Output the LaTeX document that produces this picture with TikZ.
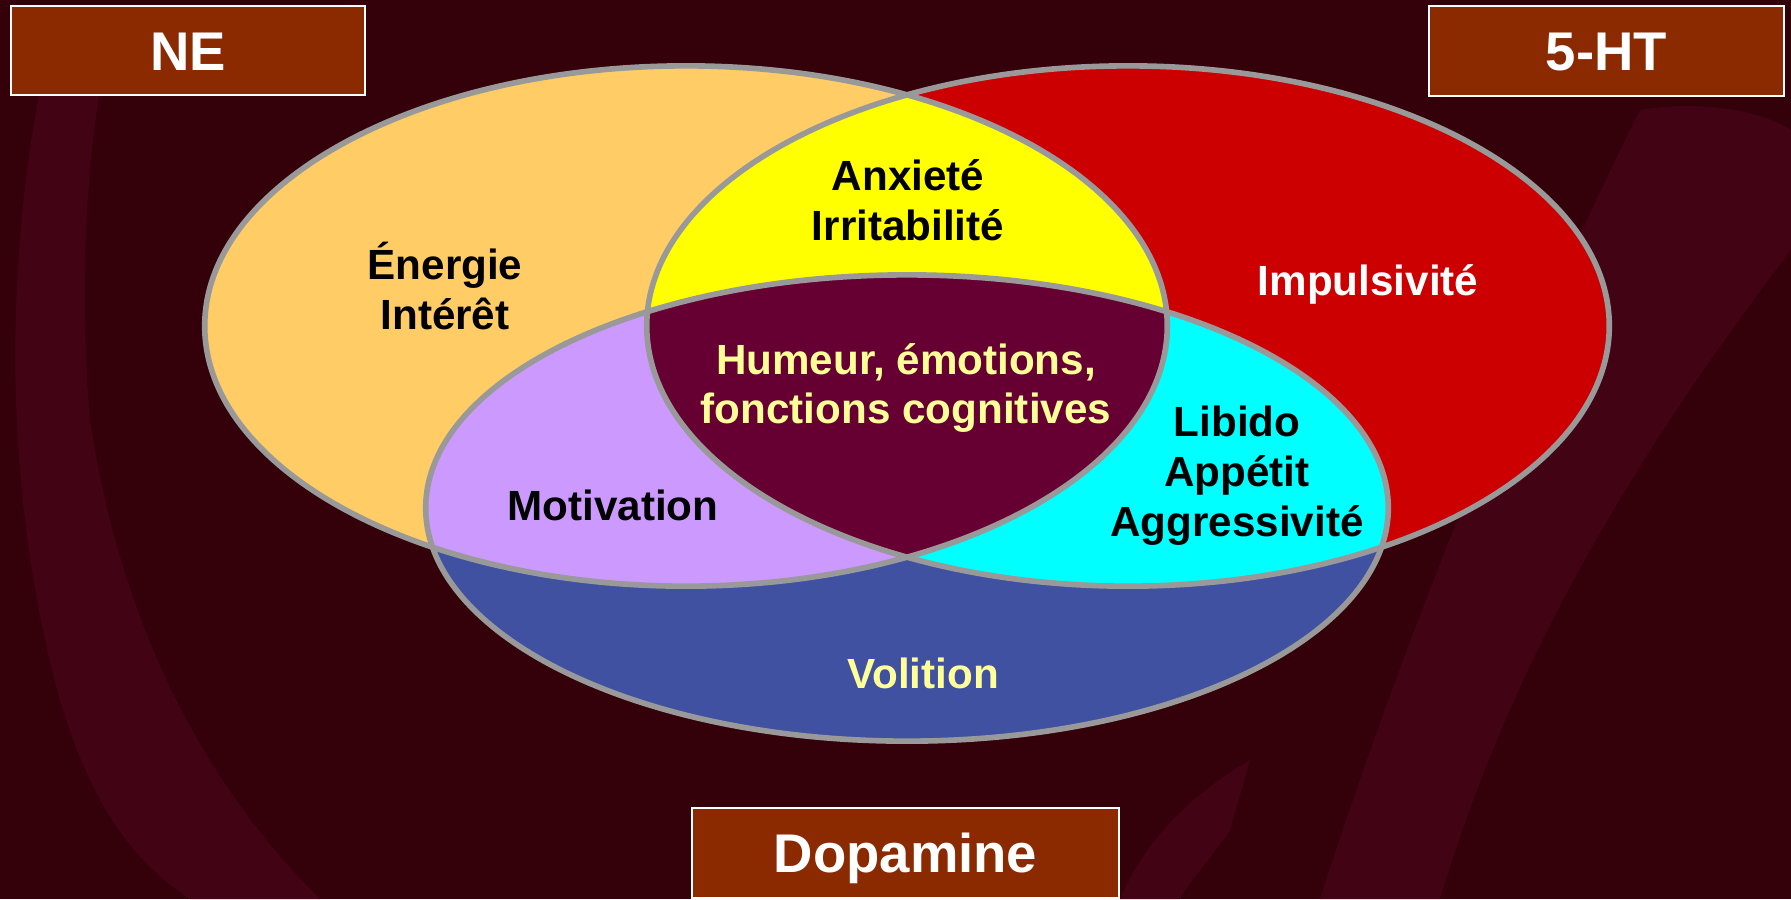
\documentclass[tikz,border=0pt]{standalone}
\usepackage{fontspec}
\setmainfont{Liberation Sans}
\usetikzlibrary{positioning}

\definecolor{bgdark}{RGB}{52,0,10}
\definecolor{streak}{RGB}{66,4,21}
\definecolor{rust}{RGB}{139,41,0}
\definecolor{neorange}{RGB}{255,204,102}
\definecolor{htred}{RGB}{204,0,0}
\definecolor{dablue}{RGB}{63,81,160}
\definecolor{mixyellow}{RGB}{255,255,0}
\definecolor{mixpurple}{RGB}{204,153,255}
\definecolor{mixcyan}{RGB}{0,255,255}
\definecolor{core}{RGB}{102,0,51}
\definecolor{paleyellow}{RGB}{255,255,153}
\definecolor{rimgray}{RGB}{153,153,153}

% the three sets
\def\neshape{(686,326) ellipse [x radius=4.81cm, y radius=2.60cm]}
\def\htshape{(1128,326) ellipse [x radius=4.81cm, y radius=2.60cm]}
\def\dashape{(907,508) ellipse [x radius=4.81cm, y radius=2.33cm]}

\begin{document}
\begin{tikzpicture}[x=0.01cm, y=-0.01cm,
  tag/.style={draw=white, line width=0.6pt, fill=rust, text=white,
              font=\fontsize{15.5}{18}\selectfont\bfseries,
              text height=11.1pt, text depth=0pt, inner sep=0pt},
  lbl/.style={align=center, font=\fontsize{12}{14.2}\selectfont\bfseries,
              inner sep=0pt},
  rim/.style={draw=rimgray, line width=1.6pt}]
\useasboundingbox (0,0) rectangle (1791,899);
\fill[bgdark] (0,0) rectangle (1791,899);
% brush streaks in the background
\fill[streak] (40,90) .. controls (0,300) and (10,520) .. (60,700)
  .. controls (90,800) and (130,860) .. (190,899) -- (320,899)
  .. controls (200,780) and (120,620) .. (90,420)
  .. controls (80,300) and (85,180) .. (100,90) -- cycle;
\fill[streak] (1640,110) .. controls (1700,100) and (1760,110) .. (1791,130)
  -- (1791,250) .. controls (1600,500) and (1500,700) .. (1440,899)
  -- (1320,899) .. controls (1400,650) and (1520,350) .. cycle;
\fill[streak] (1120,899) .. controls (1150,830) and (1200,790) .. (1250,760)
  -- (1230,830) .. controls (1210,860) and (1190,880) .. (1180,899) -- cycle;

% sets and overlaps
\fill[neorange] \neshape;
\fill[htred] \htshape;
\fill[dablue] \dashape;
\begin{scope}
  \clip \neshape;
  \fill[mixyellow] \htshape;
  \fill[mixpurple] \dashape;
\end{scope}
\begin{scope}
  \clip \htshape;
  \fill[mixcyan] \dashape;
  \clip \neshape;
  \fill[core] \dashape;
\end{scope}
\draw[rim] \neshape;
\draw[rim] \htshape;
\draw[rim] \dashape;

\node[lbl] (energie) at (445,286) {Énergie\\Intérêt};
\node[lbl] (anxiete) at (908,200) {Anxieté\\Irritabilité};
\node[lbl, text=white] (impuls) at (1368,284) {Impulsivité};
\node[lbl, text=paleyellow] (humeur) at (906,388) {Humeur, émotions,\\fonctions cognitives};
\node[lbl] (motiv) at (613,505) {Motivation};
\node[lbl] (libido) at (1237,476) {Libido\\Appétit\\Aggressivité};
\node[lbl, text=paleyellow] (volition) at (923,673) {Volition};

\node[tag, minimum width=3.54cm, minimum height=0.89cm] (ne) at (188,50.5) {NE};
\node[tag, minimum width=3.55cm, minimum height=0.90cm] (ht) at (1606.5,51) {5-HT};
\node[tag, minimum width=4.27cm, minimum height=0.90cm] (da) at (905.5,853) {Dopamine};
\end{tikzpicture}
\end{document}
